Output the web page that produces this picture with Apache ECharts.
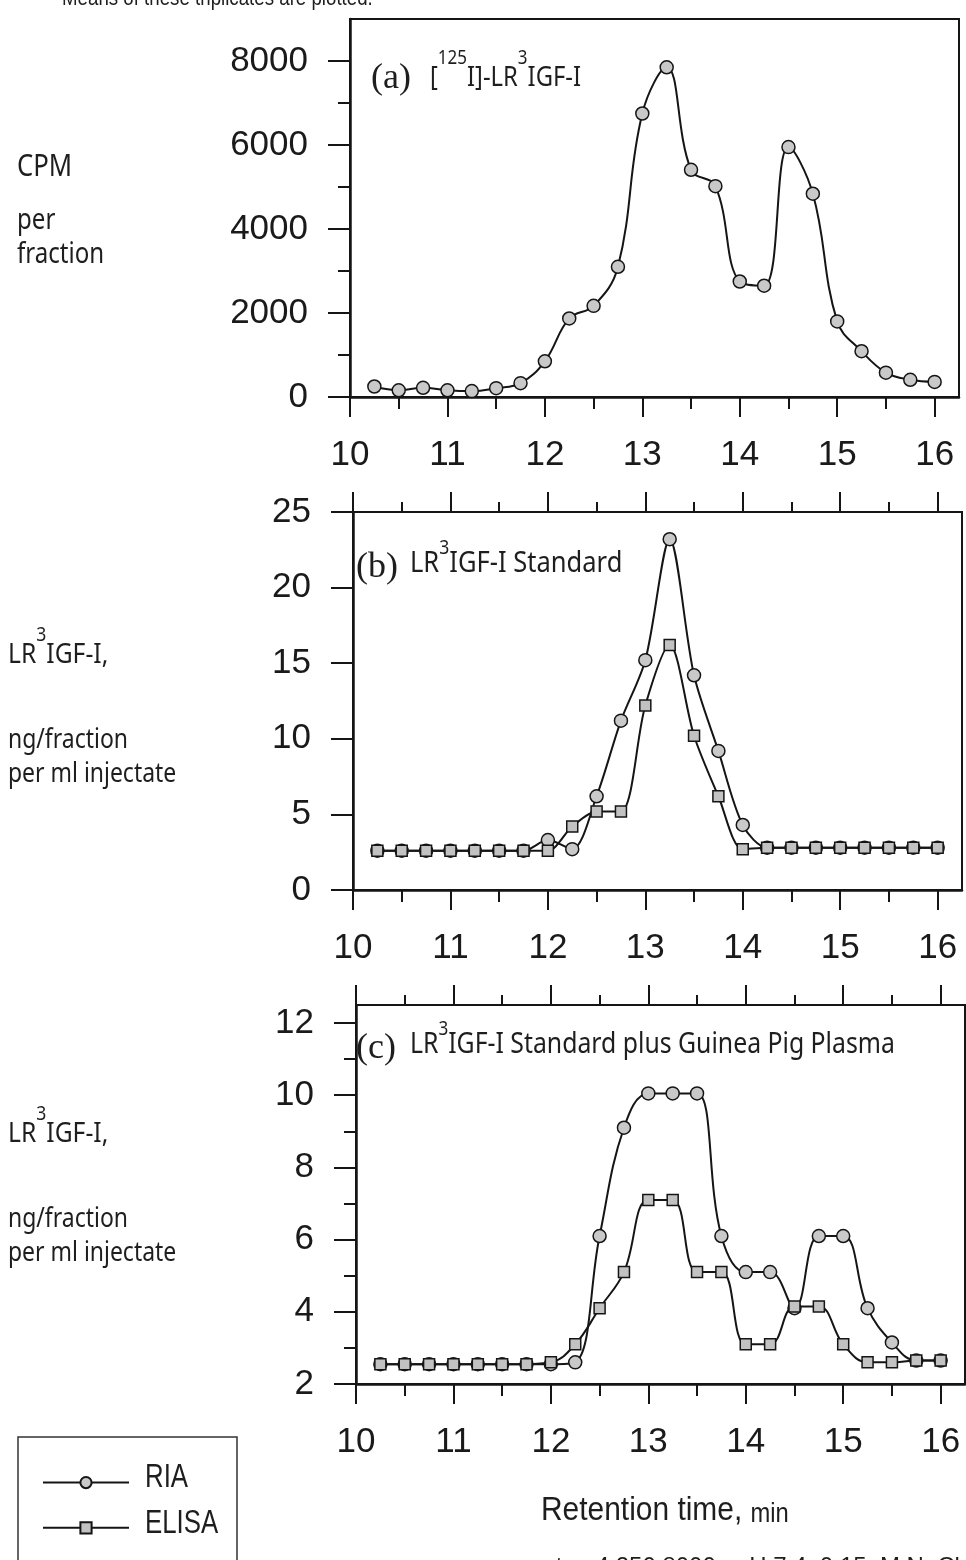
<!DOCTYPE html>
<html><head><meta charset="utf-8">
<script src="https://cdn.jsdelivr.net/npm/echarts@6/dist/echarts.min.js"></script>
<style>html,body{margin:0;padding:0;background:#fff}#c{width:966px;height:1560px}</style>
</head><body><div id="c"></div>
<script>
// ---- data ----
const times = [10.25,10.5,10.75,11,11.25,11.5,11.75,12,12.25,12.5,12.75,13,13.25,13.5,13.75,14,14.25,14.5,14.75,15,15.25,15.5,15.75,16];
const cpmRIA   = [250,160,220,160,140,210,330,850,1870,2170,3100,6750,7850,5410,5020,2750,2650,5950,4840,1800,1090,580,410,360];
const stdRIA   = [2.6,2.6,2.6,2.6,2.6,2.6,2.6,3.3,2.7,6.2,11.2,15.2,23.2,14.2,9.2,4.3,2.8,2.8,2.8,2.8,2.8,2.8,2.8,2.8];
const stdELISA = [2.6,2.6,2.6,2.6,2.6,2.6,2.6,2.6,4.2,5.2,5.2,12.2,16.2,10.2,6.2,2.7,2.8,2.8,2.8,2.8,2.8,2.8,2.8,2.8];
const gppRIA   = [2.55,2.55,2.55,2.55,2.55,2.55,2.55,2.55,2.6,6.1,9.1,10.05,10.05,10.05,6.1,5.1,5.1,4.1,6.1,6.1,4.1,3.15,2.65,2.65];
const gppELISA = [2.55,2.55,2.55,2.55,2.55,2.55,2.55,2.6,3.1,4.1,5.1,7.1,7.1,5.1,5.1,3.1,3.1,4.15,4.15,3.1,2.6,2.6,2.65,2.65];
const seriesNames = ['RIA', 'ELISA'];
const xMajorTicks = [10,11,12,13,14,15,16];
const xMinorTicks = [10.5,11.5,12.5,13.5,14.5,15.5];
const yTicksA = [0,2000,4000,6000,8000];
const yMinorA = [1000,3000,5000,7000];
const yTicksB = [0,5,10,15,20,25];
const yMinorB = [];
const yTicksC = [2,4,6,8,10,12];
const yMinorC = [3,5,7,9,11];

// ---- layout ----
const panels = [
  {grid:{left:350, top:19, width:609, height:378}, yMin:0, yMax:9000, yMajor:yTicksA, yMinor:yMinorA, topTicks:false,
   smooth:0.4, series:[['RIA', cpmRIA]]},
  {grid:{left:353, top:512, width:609, height:378}, yMin:0, yMax:25, yMajor:yTicksB, yMinor:yMinorB, topTicks:true,
   smooth:0.3, series:[['RIA', stdRIA], ['ELISA', stdELISA]]},
  {grid:{left:356, top:1005, width:609, height:379}, yMin:2, yMax:12.5, yMajor:yTicksC, yMinor:yMinorC, topTicks:true,
   smooth:0.4, series:[['RIA', gppRIA], ['ELISA', gppELISA]]}
];

const INK = '#151515';
const tickFont = {fontFamily:'Liberation Sans', fontSize:35, color:'#1a1a1a', formatter: v => String(v)};
const grids = [], xAxes = [], yAxes = [], series = [];

panels.forEach((p, i) => {
  grids.push(Object.assign({show:true, borderColor:INK, borderWidth:2, backgroundColor:'transparent'}, p.grid));
  const xBase = {type:'value', gridIndex:i, min:10, max:16.25, splitLine:{show:false}};
  const xMainIdx = xAxes.length;
  xAxes.push(Object.assign({}, xBase, {position:'bottom',
    axisLine:{show:true, onZero:false, lineStyle:{color:INK, width:2.5}},
    axisTick:{show:true, inside:false, length:20, customValues:xMajorTicks, lineStyle:{color:INK, width:2}},
    axisLabel:Object.assign({show:true, margin:41, customValues:xMajorTicks}, tickFont)}));
  xAxes.push(Object.assign({}, xBase, {position:'bottom',
    axisLine:{show:false},
    axisTick:{show:true, inside:false, length:12, customValues:xMinorTicks, lineStyle:{color:INK, width:2}},
    axisLabel:{show:false}}));
  if (p.topTicks) {
    xAxes.push(Object.assign({}, xBase, {position:'top',
      axisLine:{show:false},
      axisTick:{show:true, inside:false, length:20, customValues:xMajorTicks, lineStyle:{color:INK, width:2}},
      axisLabel:{show:false}}));
    xAxes.push(Object.assign({}, xBase, {position:'top',
      axisLine:{show:false},
      axisTick:{show:true, inside:false, length:10, customValues:xMinorTicks, lineStyle:{color:INK, width:2}},
      axisLabel:{show:false}}));
  }
  const yBase = {type:'value', gridIndex:i, min:p.yMin, max:p.yMax, splitLine:{show:false}};
  const yMainIdx = yAxes.length;
  yAxes.push(Object.assign({}, yBase, {position:'left',
    axisLine:{show:true, onZero:false, lineStyle:{color:INK, width:2.5}},
    axisTick:{show:true, inside:false, length:22, customValues:p.yMajor, lineStyle:{color:INK, width:2}},
    axisLabel:Object.assign({show:true, margin:42, customValues:p.yMajor}, tickFont)}));
  if (p.yMinor.length) {
    yAxes.push(Object.assign({}, yBase, {position:'left',
      axisLine:{show:false},
      axisTick:{show:true, inside:false, length:12, customValues:p.yMinor, lineStyle:{color:INK, width:2}},
      axisLabel:{show:false}}));
  }
  p.series.forEach(([name, vals]) => {
    const isRIA = name === 'RIA';
    series.push({
      type:'line', name, xAxisIndex:xMainIdx, yAxisIndex:yMainIdx,
      smooth: p.smooth,
      symbol: isRIA ? 'circle' : 'rect',
      symbolSize: isRIA ? 13 : 11,
      lineStyle:{color:INK, width:2},
      itemStyle:{color: isRIA ? '#c9c9c9' : '#c2c2c2', borderColor:INK, borderWidth:1.5},
      emphasis:{disabled:true},
      data: times.map((t, k) => [t, vals[k]])
    });
  });
});

const sans = '"Noto Sans"';
const richA = {
  m:{fontSize:28, fontFamily:'Noto Sans', lineHeight:44, verticalAlign:'bottom', fill:'#1e1e1e'},
  s:{fontSize:20, fontFamily:'Noto Sans', lineHeight:20, verticalAlign:'top', fill:'#1e1e1e'}
};
const richB = {
  m:{fontSize:29, fontFamily:'Noto Sans', lineHeight:40, verticalAlign:'bottom', fill:'#1e1e1e'},
  s:{fontSize:20, fontFamily:'Noto Sans', lineHeight:20, verticalAlign:'top', fill:'#1e1e1e'}
};
function txt(x, y, text, font, sx) {
  return {type:'text', x, y, scaleX: sx || 1, style:{text, font, fill:'#1e1e1e', verticalAlign:'middle'}};
}
function rtxt(x, y, text, rich, sx) {
  return {type:'text', x, y, scaleX: sx || 1, style:{text, rich, verticalAlign:'top', fill:'#1e1e1e'}};
}

const graphic = [
  // partial caption lines cut by the page edges
  txt(62, -1, 'Means of these triplicates are plotted.', '22px "Liberation Sans"', 0.85),
  txt(525, 1567, 'water, 4 250 8000,  pH 7.4, 0.15  M NaCl', '24px "Liberation Sans"', 1),
  // y titles panel a
  txt(17, 167, 'CPM', '31px ' + sans, 0.83),
  txt(17, 221, 'per', '29px ' + sans, 0.83),
  txt(17, 255, 'fraction', '29px ' + sans, 0.83),
  // y titles panel b
  rtxt(8, 625, '{m|LR}{s|3}{m|IGF-I,}', richA, 0.88),
  txt(8, 740, 'ng/fraction', '28px ' + sans, 0.82),
  txt(8, 774, 'per ml injectate', '28px ' + sans, 0.82),
  // y titles panel c
  rtxt(8, 1104, '{m|LR}{s|3}{m|IGF-I,}', richA, 0.88),
  txt(8, 1219, 'ng/fraction', '28px ' + sans, 0.82),
  txt(8, 1253, 'per ml injectate', '28px ' + sans, 0.82),
  // panel annotations
  txt(371, 79, '(a)', '36px "Liberation Serif"', 1),
  rtxt(430, 48, '{m|[}{s|125}{m|I]-LR}{s|3}{m|IGF-I}', richA, 0.85),
  txt(356, 568, '(b)', '36px "Liberation Serif"', 1),
  rtxt(410, 538, '{m|LR}{s|3}{m|IGF-I Standard}', richB, 0.88),
  txt(356, 1049, '(c)', '36px "Liberation Serif"', 1),
  rtxt(410, 1019, '{m|LR}{s|3}{m|IGF-I Standard plus Guinea Pig Plasma}', richB, 0.855),
  // x title
  rtxt(541, 1488, '{a|Retention time, }{b|min}', {
    a:{fontSize:34, fontFamily:'Liberation Sans', lineHeight:40, verticalAlign:'bottom', fill:'#1e1e1e'},
    b:{fontSize:27, fontFamily:'Liberation Sans', lineHeight:40, verticalAlign:'bottom', fill:'#1e1e1e'}
  }, 0.88),
  // legend frame and condensed legend labels
  {type:'rect', shape:{x:18, y:1437, width:219, height:160}, style:{fill:'none', stroke:'#333', lineWidth:1.5}},
  txt(145, 1478, seriesNames[0], '34px "Liberation Sans"', 0.76),
  txt(145, 1524, seriesNames[1], '34px "Liberation Sans"', 0.76)
];

const chart = echarts.init(document.getElementById('c'), null, {renderer:'canvas'});
chart.setOption({
  animation:false,
  backgroundColor:'#fff',
  grid:grids, xAxis:xAxes, yAxis:yAxes, series,
  legend:{data:seriesNames, orient:'vertical', left:37, top:1471, itemWidth:86, itemHeight:14, itemGap:32,
    selectedMode:false, formatter: () => '',
    textStyle:{fontSize:12, lineHeight:14, padding:0}},
  graphic
});
</script></body></html>
